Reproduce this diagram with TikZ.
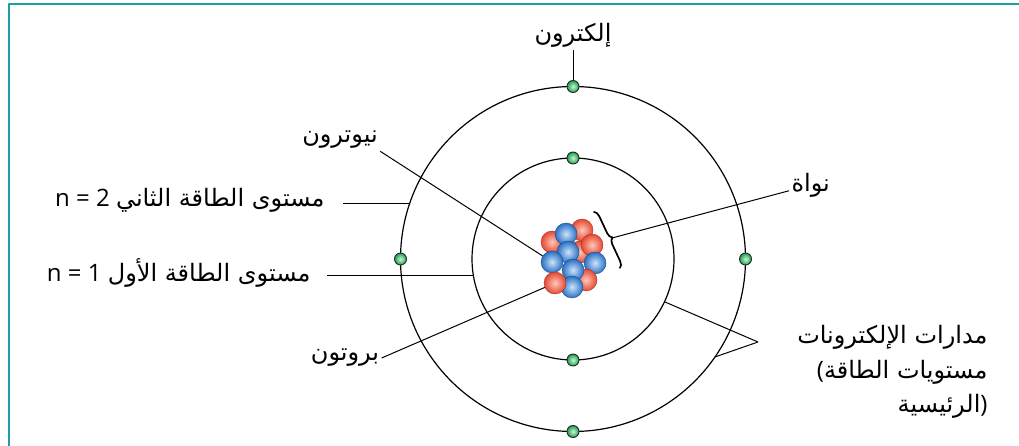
\documentclass[tikz,border=0pt]{standalone}
\usepackage{fontspec}
\setmainfont{Open Sans}
\newfontfamily\arabicfont[Script=Arabic]{DejaVu Sans}
\TeXXeTstate=1
\usetikzlibrary{decorations.pathreplacing}

\definecolor{framecol}{RGB}{28,158,166}
\definecolor{protonin}{RGB}{255,200,185}
\definecolor{protonout}{RGB}{228,72,50}
\definecolor{protonedge}{RGB}{170,50,35}
\definecolor{neutronin}{RGB}{205,228,250}
\definecolor{neutronout}{RGB}{40,112,196}
\definecolor{neutronedge}{RGB}{30,75,140}
\definecolor{electronin}{RGB}{205,245,210}
\definecolor{electronout}{RGB}{25,160,80}

\tikzset{
  orbit/.style={line width=1.2bp},
  proton/.style={circle, inner sep=0pt, minimum size=22bp, draw=protonedge, line width=0.4bp,
    inner color=protonin, outer color=protonout},
  neutron/.style={circle, inner sep=0pt, minimum size=22bp, draw=neutronedge, line width=0.4bp,
    inner color=neutronin, outer color=neutronout},
  electron/.style={circle, inner sep=0pt, minimum size=12bp, draw=black!85, line width=0.9bp,
    inner color=electronin, outer color=electronout},
  lbl/.style={font=\fontsize{24bp}{34.5bp}\selectfont, inner sep=2bp},
  bracket/.style={decorate, decoration={brace, amplitude=6bp}, line width=1.7bp, line cap=round},
}

\begin{document}
\begin{tikzpicture}[>=latex,line join=bevel,]
  \pgfsetlinewidth{1bp}
  \useasboundingbox (0bp,0bp) rectangle (1019bp,446bp);
%%
  % Frame
  \draw [framecol, line width=2.2bp] (9bp,0bp) -- (9bp,442bp) -- (1019bp,442bp);
  \coordinate (core) at (573bp,187bp);
  % Orbits
  \draw [orbit] (core) circle (101bp);
  \draw [orbit] (core) circle (172.5bp);
  % Node: Nucleus
\begin{scope}
  \node [proton] (p1) at (580bp,194bp) {};
  \node [proton] (p2) at (582bp,216bp) {};
  \node [proton] (p3) at (552bp,204bp) {};
  \node [neutron] (n1) at (566bp,212bp) {};
  \node [proton] (p4) at (592bp,201bp) {};
  \node [neutron] (n2) at (568bp,194bp) {};
  \node [neutron] (n3) at (552bp,184bp) {};
  \node [neutron] (n4) at (595bp,183bp) {};
  \node [proton] (p5) at (586bp,166bp) {};
  \node [neutron] (n5) at (573bp,176bp) {};
  \node [neutron] (n6) at (572bp,159bp) {};
  \node [proton] (p6) at (555bp,163bp) {};
  \draw [bracket] (594bp,234bp) -- (620bp,178bp);
  \coordinate (tip) at (612bp,208bp);
\end{scope}
  % Node: Electrons
  \node [electron] (e2n) at (573bp,359.5bp) {};
  \node [electron] (e2s) at (573bp,14.5bp) {};
  \node [electron] (e2w) at (400.5bp,187bp) {};
  \node [electron] (e2e) at (745.5bp,187bp) {};
  \node [electron] (e1n) at (573bp,288bp) {};
  \node [electron] (e1s) at (573bp,86bp) {};
  % Edge: Electron label -> e2n
  \node [lbl] (elbl) at (573bp,411bp) {\arabicfont\beginR إلكترون\endR};
  \draw (elbl) -- (e2n);
  % Edge: Neutron label -> n3
  \node [lbl] (nlbl) at (340bp,306bp) {\arabicfont\beginR نيوترون\endR};
  \draw (nlbl.south east) -- (n3);
  % Edge: Proton label -> p6
  \node [lbl] (plbl) at (345bp,88bp) {\arabicfont\beginR بروتون\endR};
  \draw (plbl.east) -- (p6);
  % Edge: Nucleus label -> bracket
  \node [lbl, anchor=west] (nucl) at (789bp,261bp) {\arabicfont\beginR نواة\endR};
  \draw (tip) -- (nucl);
  % Edge: Level 2 -> outer orbit
  \node [lbl, anchor=east] (lvl2) at (327bp,246bp) {n = 2 {\arabicfont\beginR مستوى الطاقة الثاني\endR}};
  \coordinate (o2w) at ([shift={(161.06:172.5bp)}]core);
  \draw ([xshift=16bp]lvl2.east |- o2w) -- (o2w);
  % Edge: Level 1 -> inner orbit
  \node [lbl, anchor=east] (lvl1) at (313bp,173bp) {n = 1 {\arabicfont\beginR مستوى الطاقة الأول\endR}};
  \coordinate (o1w) at ([shift={(189.69:101bp)}]core);
  \draw ([xshift=14bp]lvl1.east |- o1w) -- (o1w);
  % Edge: Orbits label -> both orbits
  \node [lbl, anchor=east, align=right] (orbl) at (990bp,74bp)
    {{\arabicfont\beginR مدارات الإلكترونات\endR}\\
     ({\arabicfont\beginR مستويات الطاقة\endR}\\
     {\arabicfont\beginR الرئيسية\endR})};
  \coordinate (fork) at (758bp,104bp);
  \coordinate (o1se) at ([shift={(-25.05:101bp)}]core);
  \coordinate (o2se) at ([shift={(-34.6:172.5bp)}]core);
  \draw (o1se) -- (fork) -- (o2se);
%
\end{tikzpicture}
\end{document}
